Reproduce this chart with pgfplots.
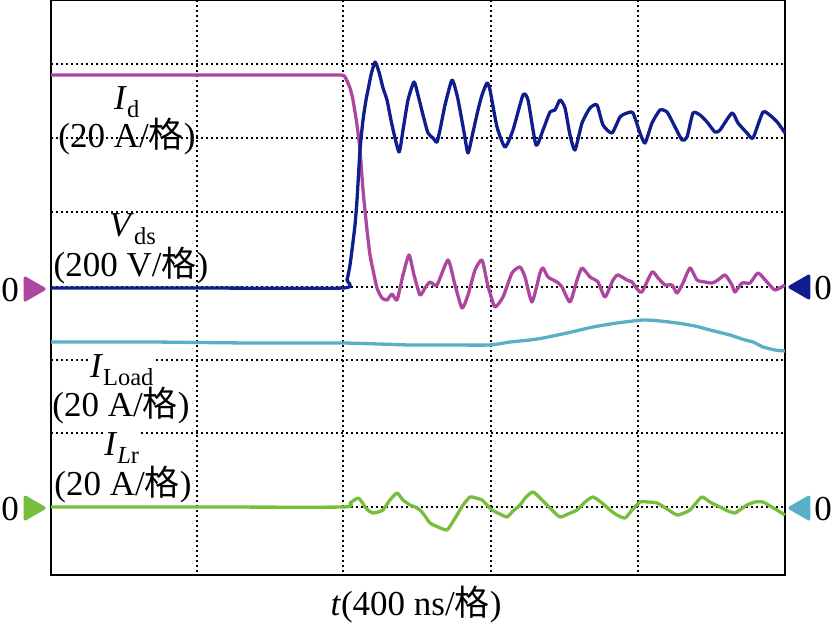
\documentclass[border=0pt]{standalone}
\usepackage{pgfplots}
\pgfplotsset{compat=1.18}
\usepackage{fontspec}
\setmainfont{Liberation Serif}
\newfontfamily\cjk{Noto Sans CJK SC}
\definecolor{cId}{RGB}{172,70,160}
\definecolor{cVds}{RGB}{15,30,140}
\definecolor{cLoad}{RGB}{90,175,200}
\definecolor{cLr}{RGB}{118,190,60}
\newcommand{\gezi}{{\cjk 格}}
\newcommand{\lab}{\fontsize{35bp}{38bp}\selectfont}
\begin{document}
\begin{tikzpicture}
\path[use as bounding box] (0,0) rectangle (832bp,629bp);
\begin{axis}[
  at={(51bp,54bp)}, anchor=south west,
  width=734bp, height=575bp, scale only axis,
  xmin=51, xmax=785, ymin=0, ymax=575, y dir=reverse,
  clip=false,
  axis line style={line width=1.6bp, black},
  xtick={197,343,491,638}, ytick={64,138,212,287,360,433,507},
  xticklabels={}, yticklabels={},
  major tick length=0pt,
  grid=major,
  grid style={black, line width=1.8bp, dash pattern=on 1.8bp off 3.2bp},
  every axis plot/.append style={line width=3.3bp, line join=round},
]
% Id
\addplot[cId, mark=none, smooth, tension=0.35] coordinates {
(51,75) (100,75) (200,75) (300,75) (340,75) (345,77) (350,88) (353,100) (357,125) (360,150) (363,190) (367,230) (370,255) (373,270) (377,288) (382,298) (387,300) (392,294) (397,300) (403,275) (409,255) (414,275) (420,295) (425,288) (430,282) (437,285) (448,260) (455,285) (462,308) (468,295) (475,270) (482,260) (487,282) (490,293) (495,307) (503,297) (512,273) (520,267) (525,277) (532,302) (540,273) (543,268) (548,277) (557,282) (562,287) (570,302) (577,280) (582,268) (590,277) (598,282) (605,297) (613,280) (618,275) (627,280) (632,282) (638,290) (642,292) (652,272) (658,278) (665,285) (672,285) (677,293) (683,283) (690,268) (697,280) (705,282) (712,283) (718,280) (725,275) (732,285) (735,292) (742,283) (750,283) (758,273) (767,282) (775,290) (785,285)
};
% Vds
\addplot[cVds, mark=none, smooth, tension=0.35] coordinates {
(51,288) (200,288) (343,288) (347,280) (350,265) (352,250) (355,225) (357,200) (360,150) (363,120) (366,100) (368,90) (371,75) (375,62) (379,72) (383,88) (387,100) (392,125) (399,152) (403,130) (408,100) (414,82) (418,95) (423,115) (428,133) (433,138) (437,142) (441,125) (445,105) (452,80) (457,95) (460,110) (464,132) (468,153) (473,132) (478,110) (482,95) (487,83) (490,90) (497,127) (505,147) (513,130) (523,95) (528,100) (536,145) (543,130) (550,112) (555,110) (560,100) (565,108) (570,135) (575,150) (582,123) (590,108) (597,105) (603,125) (612,133) (620,117) (627,113) (633,113) (640,133) (645,143) (652,123) (660,110) (667,112) (673,123) (682,140) (687,137) (693,113) (700,115) (707,122) (715,132) (720,130) (732,113) (738,123) (747,133) (753,138) (763,112) (772,117) (778,123) (785,133)
};
% ILoad
\addplot[cLoad, mark=none, smooth, tension=0.35] coordinates {
(51,342) (150,342) (250,343) (343,343) (410,345) (450,345) (490,345) (510,342) (530,340) (543,338) (567,333) (593,327) (617,323) (643,320) (660,321) (677,323) (695,326) (710,330) (730,335) (745,340) (753,342) (763,347) (775,350) (785,351)
};
% ILr
\addplot[cLr, mark=none, smooth, tension=0.35] coordinates {
(51,507) (200,507) (343,507) (350,503) (358,498) (362,502) (365,507) (369,511) (373,513) (378,512) (383,510) (390,500) (397,493) (403,500) (410,505) (415,507) (420,510) (425,516) (430,523) (438,527) (447,530) (452,523) (457,515) (463,505) (470,497) (476,498) (482,500) (487,505) (492,510) (500,514) (507,517) (513,511) (520,505) (526,497) (533,492) (540,498) (547,505) (553,511) (560,517) (568,514) (577,510) (585,502) (593,497) (602,503) (610,510) (617,515) (625,518) (632,510) (640,502) (648,502) (657,503) (667,509) (677,515) (684,513) (690,510) (696,503) (702,497) (710,502) (720,507) (728,511) (735,513) (741,509) (747,505) (755,502) (763,502) (770,506) (777,510) (785,515)
};
% zero markers
\addplot[only marks, mark=triangle*, mark size=12.5bp, color=cId, mark options={rotate=-90}] coordinates {(31.5,289)};
\addplot[only marks, mark=triangle*, mark size=12.5bp, color=cLr, mark options={rotate=-90}] coordinates {(31.5,508)};
\addplot[only marks, mark=triangle*, mark size=12.5bp, color=cVds, mark options={rotate=90}] coordinates {(802.5,287)};
\addplot[only marks, mark=triangle*, mark size=12.5bp, color=cLoad, mark options={rotate=90}] coordinates {(802.5,508)};
% labels
\node[inner sep=0pt] at (axis cs:127,102) {\lab\textit{I}\textsubscript{d}};
\node[inner sep=0pt] at (axis cs:127,137) {\lab(20 A/\gezi)};
\node[inner sep=0pt] at (axis cs:133,229) {\lab\textit{V}\textsubscript{ds}};
\node[inner sep=0pt] at (axis cs:131,266) {\lab(200 V/\gezi)};
\node[inner sep=1pt, fill=white] at (axis cs:122,370) {\lab\textit{I}\textsubscript{Load}};
\node[inner sep=0pt] at (axis cs:121,406) {\lab(20 A/\gezi)};
\node[inner sep=1pt, fill=white] at (axis cs:122,448) {\lab\textit{I}\textsubscript{\textit{L}r}};
\node[inner sep=0pt] at (axis cs:123,485) {\lab(20 A/\gezi)};
\node[inner sep=0pt] at (axis cs:10,290) {\lab 0};
\node[inner sep=0pt] at (axis cs:10,509) {\lab 0};
\node[inner sep=0pt] at (axis cs:823,288) {\lab 0};
\node[inner sep=0pt] at (axis cs:823,509) {\lab 0};
\node[inner sep=0pt] at (axis cs:416,605) {\lab\textit{t}(400 ns/\gezi)};
\end{axis}
\end{tikzpicture}
\end{document}
